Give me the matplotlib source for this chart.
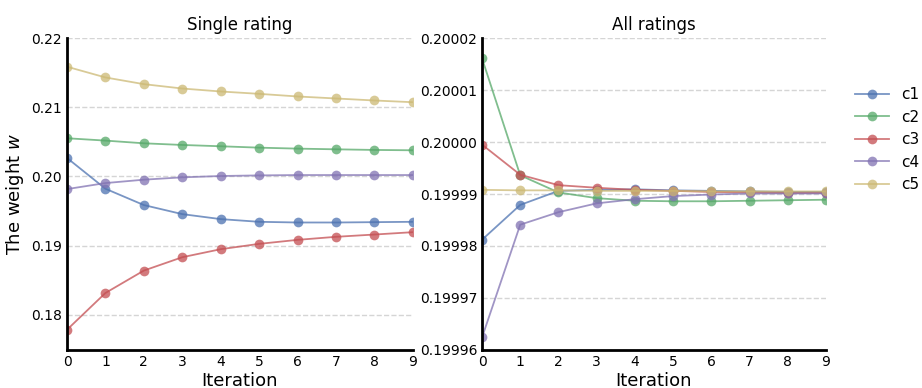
import matplotlib
matplotlib.use('Agg')
import matplotlib.pyplot as plt
from matplotlib.ticker import FormatStrFormatter

# ============================================
# Data
# ============================================
iterations = list(range(10))
labels = ['c1', 'c2', 'c3', 'c4', 'c5']
colors = ['#4C72B0', '#55A868', '#C44E52', '#8172B2', '#CCB974']

# Single rating
single_c1 = [0.20266, 0.19821, 0.19585, 0.19454, 0.19382, 0.19343, 0.19333, 0.19333, 0.19338, 0.19343]
single_c2 = [0.20551, 0.20517, 0.20478, 0.20454, 0.20435, 0.20415, 0.20401, 0.20391, 0.20382, 0.20377]
single_c3 = [0.17783, 0.18314, 0.18638, 0.18831, 0.18947, 0.19024, 0.19082, 0.19126, 0.19159, 0.19193]
single_c4 = [0.19816, 0.19903, 0.19952, 0.19986, 0.20005, 0.20014, 0.20019, 0.20019, 0.20019, 0.20019]
single_c5 = [0.21585, 0.21430, 0.21333, 0.21270, 0.21227, 0.21193, 0.21155, 0.21126, 0.21097, 0.21072]

# All ratings
all_c1 = [0.1999812, 0.1999879, 0.1999906, 0.1999908, 0.1999909, 0.1999907, 0.1999906, 0.1999905, 0.1999904, 0.1999904]
all_c2 = [0.2000161, 0.1999936, 0.1999903, 0.1999892, 0.1999887, 0.1999886, 0.1999886, 0.1999887, 0.1999888, 0.1999889]
all_c3 = [0.1999995, 0.1999937, 0.1999917, 0.1999912, 0.1999908, 0.1999906, 0.1999904, 0.1999903, 0.1999902, 0.1999902]
all_c4 = [0.1999624, 0.1999841, 0.1999865, 0.1999882, 0.1999890, 0.1999896, 0.1999899, 0.1999901, 0.1999901, 0.1999901]
all_c5 = [0.1999908, 0.1999907, 0.1999907, 0.1999906, 0.1999906, 0.1999906, 0.1999905, 0.1999905, 0.1999905, 0.1999905]

single = [single_c1, single_c2, single_c3, single_c4, single_c5]
all_r = [all_c1, all_c2, all_c3, all_c4, all_c5]

# ============================================
# Figure
# ============================================
fig = plt.figure(figsize=(9.22, 3.88), dpi=100)
ax1 = fig.add_axes([0.0727, 0.098, 0.375, 0.804])
ax2 = fig.add_axes([0.5228, 0.098, 0.373, 0.804])


def style(ax, title):
    for side in ['top', 'right']:
        ax.spines[side].set_visible(False)
    for side in ['left', 'bottom']:
        ax.spines[side].set_linewidth(2)
        ax.spines[side].set_color('black')
    ax.yaxis.grid(True, linestyle='--', color='#d5d5d5', linewidth=1)
    ax.set_axisbelow(True)
    ax.tick_params(length=0, labelsize=10)
    ax.set_xlim(0, 9)
    ax.set_xticks(iterations)
    ax.set_xlabel('Iteration', fontsize=13, labelpad=2)
    ax.set_title(title, fontsize=12)


for series, lab, col in zip(single, labels, colors):
    ax1.plot(iterations, series, '-o', color=col, alpha=0.75, lw=1.3, ms=7, mew=0, label=lab)
for series, lab, col in zip(all_r, labels, colors):
    ax2.plot(iterations, series, '-o', color=col, alpha=0.75, lw=1.3, ms=7, mew=0, label=lab)

style(ax1, 'Single rating')
style(ax2, 'All ratings')

ax1.set_ylim(0.1749, 0.22)
ax1.set_yticks([0.18, 0.19, 0.20, 0.21, 0.22])
ax1.yaxis.set_major_formatter(FormatStrFormatter('%.2f'))
ax1.set_ylabel('The weight $w$', fontsize=13)

ax2.set_ylim(0.19996, 0.20002)
ax2.set_yticks([0.19996, 0.19997, 0.19998, 0.19999, 0.20000, 0.20001, 0.20002])
ax2.yaxis.set_major_formatter(FormatStrFormatter('%.5f'))

handles, leg_labels = ax1.get_legend_handles_labels()
fig.legend(handles, leg_labels, loc='center', bbox_to_anchor=(0.962, 0.64),
           frameon=False, fontsize=11, handlelength=2.2, labelspacing=0.5)

fig.savefig('out.png', dpi=100)
